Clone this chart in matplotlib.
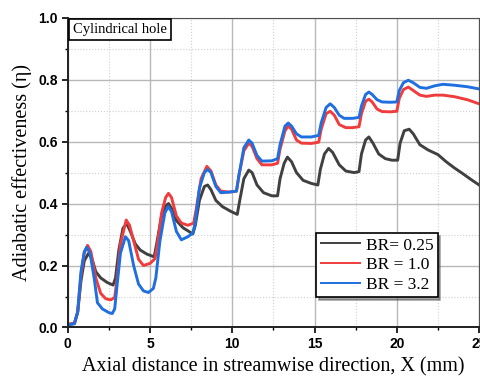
import matplotlib.pyplot as plt
from matplotlib.ticker import MultipleLocator

# BR = 0.25
x_br025 = [0, 0.4, 0.6, 0.8, 1.0, 1.25, 1.45, 1.7, 2.0, 2.4, 2.75, 2.9, 3.1, 3.35, 3.58, 3.8,
           4.1, 4.4, 4.8, 5.25, 5.4, 5.7, 5.95, 6.12, 6.3, 6.6, 7.0, 7.6, 7.75, 8.0, 8.3, 8.5,
           8.7, 9.0, 9.4, 9.9, 10.3, 10.45, 10.7, 11.0, 11.2, 11.5, 11.9, 12.4, 12.75, 12.9,
           13.15, 13.35, 13.6, 13.9, 14.3, 14.8, 15.2, 15.35, 15.6, 15.85, 16.1, 16.5, 16.9,
           17.4, 17.7, 17.85, 18.1, 18.3, 18.55, 18.9, 19.3, 19.7, 20.05, 20.2, 20.45, 20.75,
           21.0, 21.4, 21.9, 22.5, 23.0, 23.5, 24.0, 24.5, 25.0]
y_br025 = [0.01, 0.013, 0.05, 0.15, 0.215, 0.239, 0.225, 0.18, 0.16, 0.145, 0.137, 0.16, 0.25,
           0.32, 0.336, 0.31, 0.27, 0.25, 0.237, 0.228, 0.27, 0.36, 0.393, 0.40, 0.385, 0.345,
           0.322, 0.302, 0.33, 0.41, 0.455, 0.46, 0.445, 0.41, 0.39, 0.375, 0.365, 0.41, 0.48,
           0.508, 0.5, 0.46, 0.435, 0.425, 0.425, 0.48, 0.53, 0.55, 0.535, 0.5, 0.475, 0.465,
           0.46, 0.51, 0.56, 0.578, 0.565, 0.525, 0.505, 0.5, 0.503, 0.56, 0.605, 0.615, 0.595,
           0.56, 0.545, 0.54, 0.54, 0.595, 0.635, 0.64, 0.625, 0.59, 0.573, 0.558, 0.535, 0.515,
           0.497, 0.478, 0.46]

# BR = 1.0
x_br10 = [0, 0.4, 0.6, 0.8, 1.0, 1.2, 1.4, 1.7, 2.0, 2.3, 2.6, 2.85, 3.0, 3.2, 3.55, 3.75,
          4.0, 4.3, 4.6, 5.0, 5.3, 5.45, 5.7, 5.95, 6.12, 6.3, 6.6, 6.9, 7.3, 7.65, 7.8, 8.1,
          8.45, 8.7, 9.0, 9.3, 9.8, 10.25, 10.4, 10.7, 11.0, 11.2, 11.5, 11.8, 12.4, 12.75,
          12.9, 13.2, 13.4, 13.6, 13.9, 14.2, 14.8, 15.25, 15.4, 15.7, 15.95, 16.2, 16.5,
          16.9, 17.3, 17.7, 17.85, 18.1, 18.3, 18.5, 18.8, 19.1, 19.6, 20.0, 20.15, 20.4,
          20.7, 21.0, 21.4, 21.8, 22.3, 22.8, 23.5, 24.3, 25.0]
y_br10 = [0.01, 0.013, 0.05, 0.17, 0.24, 0.265, 0.245, 0.16, 0.11, 0.093, 0.089, 0.097, 0.16,
          0.27, 0.347, 0.33, 0.28, 0.22, 0.2, 0.207, 0.222, 0.27, 0.37, 0.42, 0.433, 0.42,
          0.36, 0.337, 0.33, 0.337, 0.38, 0.48, 0.52, 0.505, 0.46, 0.44, 0.437, 0.44, 0.49,
          0.57, 0.595, 0.585, 0.545, 0.525, 0.525, 0.53, 0.575, 0.635, 0.65, 0.64, 0.605,
          0.595, 0.594, 0.598, 0.64, 0.69, 0.698, 0.685, 0.655, 0.645, 0.645, 0.648, 0.69,
          0.73, 0.737, 0.728, 0.705, 0.697, 0.696, 0.698, 0.74, 0.768, 0.776, 0.765, 0.75,
          0.746, 0.75, 0.75, 0.745, 0.735, 0.722]

# BR = 3.2
x_br32 = [0, 0.4, 0.6, 0.8, 1.0, 1.15, 1.35, 1.6, 1.8, 2.1, 2.5, 2.7, 2.85, 3.0, 3.2, 3.5,
          3.7, 4.0, 4.3, 4.6, 4.9, 5.2, 5.35, 5.6, 5.9, 6.1, 6.3, 6.6, 6.9, 7.3, 7.6, 7.75,
          8.0, 8.3, 8.5, 8.7, 9.0, 9.3, 9.8, 10.25, 10.4, 10.7, 11.0, 11.2, 11.5, 11.8, 12.4,
          12.75, 12.9, 13.2, 13.4, 13.6, 13.9, 14.2, 14.8, 15.25, 15.4, 15.7, 15.95, 16.2,
          16.5, 16.8, 17.3, 17.7, 17.85, 18.1, 18.3, 18.5, 18.8, 19.1, 19.6, 20.0, 20.15,
          20.4, 20.7, 21.0, 21.4, 21.8, 22.3, 22.8, 23.5, 24.3, 25.0]
y_br32 = [0.008, 0.012, 0.05, 0.18, 0.245, 0.259, 0.24, 0.16, 0.08, 0.06, 0.048, 0.045, 0.06,
          0.14, 0.24, 0.293, 0.28, 0.2, 0.14, 0.118, 0.113, 0.126, 0.16, 0.28, 0.37, 0.39,
          0.375, 0.31, 0.283, 0.293, 0.305, 0.34, 0.45, 0.5, 0.51, 0.5, 0.455, 0.435, 0.437,
          0.44, 0.49, 0.58, 0.605, 0.595, 0.555, 0.537, 0.538, 0.545, 0.59, 0.65, 0.66, 0.65,
          0.625, 0.615, 0.615, 0.62, 0.66, 0.71, 0.722, 0.71, 0.685, 0.675, 0.675, 0.678,
          0.715, 0.752, 0.76, 0.752, 0.735, 0.728, 0.727, 0.728, 0.765, 0.79, 0.798, 0.79,
          0.775, 0.772, 0.78, 0.785, 0.782, 0.777, 0.77]

fig = plt.figure(figsize=(4.81, 3.76), dpi=100)
ax = fig.add_axes([0.141, 0.129, 0.855, 0.824])

ax.plot(x_br025, y_br025, color='#404040', lw=2.1, label='BR= 0.25', solid_joinstyle='round')
ax.plot(x_br10, y_br10, color='#f03c3c', lw=2.1, label='BR = 1.0', solid_joinstyle='round')
ax.plot(x_br32, y_br32, color='#1f6fe0', lw=2.1, label='BR = 3.2', solid_joinstyle='round')

ax.set_xlim(0, 25)
ax.set_ylim(0, 1.0)
ax.xaxis.set_minor_locator(MultipleLocator(2.5))
ax.yaxis.set_minor_locator(MultipleLocator(0.1))
ax.grid(which='major', color='#b8b8b8', lw=1.0, ls='-')
ax.grid(which='minor', color='#d0d0d0', lw=0.8, ls=':')
ax.set_axisbelow(True)

ax.tick_params(which='major', direction='out', length=4, width=1.2, pad=3)
ax.tick_params(which='minor', direction='out', length=2.5, width=1.0)
ax.set_yticks([0, 0.2, 0.4, 0.6, 0.8, 1.0])
ax.set_yticklabels(['0.0', '0.2', '0.4', '0.6', '0.8', '1.0'], fontfamily='Liberation Sans',
                   fontweight='bold', fontsize=10)
ax.set_xticks([0, 5, 10, 15, 20, 25])
ax.set_xticklabels(['0', '5', '10', '15', '20', '25'], fontfamily='Liberation Sans',
                   fontweight='bold', fontsize=10)

for sp in ['left', 'bottom']:
    ax.spines[sp].set_linewidth(1.4)
    ax.spines[sp].set_color('#202020')
ax.spines['top'].set_color('#505050')
ax.spines['right'].set_color('#505050')

ax.set_xlabel('Axial distance in streamwise direction, X (mm)', fontfamily='Liberation Serif',
              fontsize=14.5, labelpad=4)
ax.set_ylabel('Adiabatic effectiveness (\u03b7)', fontfamily='Liberation Serif',
              fontsize=14.5, labelpad=5)

ax.text(0.013, 0.983, 'Cylindrical hole', transform=ax.transAxes, fontfamily='Liberation Serif',
        fontsize=10.5, va='top', ha='left',
        bbox=dict(boxstyle='square,pad=0.3', fc='white', ec='black', lw=1.2))

leg = ax.legend(loc='lower left', bbox_to_anchor=(0.604, 0.098), borderaxespad=0,
                prop={'family': 'Liberation Serif', 'size': 12.5}, handlelength=2.3,
                handletextpad=0.3, labelspacing=0.2, borderpad=0.25,
                fancybox=False, shadow=True, framealpha=1, edgecolor='black')
leg.get_frame().set_linewidth(1.2)
for line in leg.get_lines():
    line.set_linewidth(1.4)

fig.savefig('out.png', dpi=100)
